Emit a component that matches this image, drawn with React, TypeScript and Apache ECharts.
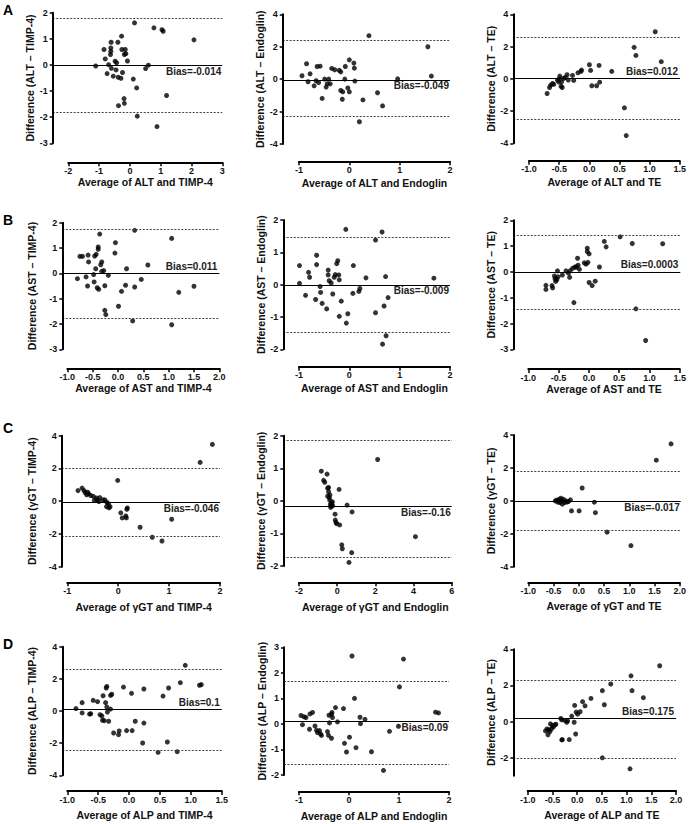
import React, { useEffect, useRef } from "react";
import * as echarts from "echarts";

const FONT = '"Liberation Sans", Arial, Helvetica, sans-serif';

// ---------- data: [average, difference] ----------
const altTimp4 = [[-1.11,-0.04],[-0.84,0.59],[-0.80,0.23],[-0.74,-0.33],[-0.69,0.01],[-0.62,0.52],[-0.61,0.87],[-0.62,0.65],[-0.63,0.40],[-0.60,-0.13],[-0.54,-0.43],[-0.48,0.14],[-0.45,-0.19],[-0.43,0.08],[-0.39,0.87],[-0.38,-0.47],[-0.37,-1.56],[-0.29,-0.51],[-0.27,1.10],[-0.26,0.59],[-0.24,-0.29],[-0.19,-1.29],[-0.18,-1.47],[-0.18,0.40],[-0.15,0.59],[-0.13,0.43],[-0.08,0.15],[0.11,-0.54],[0.15,1.61],[0.22,-0.88],[0.24,-1.96],[0.51,-0.14],[0.60,-0.01],[0.78,1.42],[0.88,-2.36],[1.04,1.35],[1.08,1.29],[1.19,-1.17],[2.08,0.96]];
const altEndoglin = [[-0.94,0.21],[-0.85,0.95],[-0.82,-0.16],[-0.78,0.33],[-0.70,-0.41],[-0.66,-0.10],[-0.64,0.78],[-0.61,-0.21],[-0.58,0.80],[-0.54,-1.19],[-0.49,0],[-0.46,-0.49],[-0.44,-0.29],[-0.41,0],[-0.38,-0.29],[-0.35,0.66],[-0.29,0.58],[-0.20,0.54],[-0.17,0.45],[-0.17,-0.70],[-0.14,-1.24],[-0.13,-0.78],[-0.09,0],[-0.08,0.78],[-0.03,-0.54],[0,1.19],[0,-0.78],[0.09,0.99],[0.10,0.68],[0.11,-0.12],[0.20,-2.63],[0.27,-1.28],[0.39,2.68],[0.56,-0.84],[0.66,-1.65],[0.96,0.02],[1.56,2.0],[1.63,0.19]];
const altTe = [[-0.70,-0.91],[-0.66,-0.54],[-0.64,-0.39],[-0.61,-0.29],[-0.59,-0.35],[-0.53,-0.08],[-0.51,-0.19],[-0.50,0],[-0.49,0.17],[-0.47,-0.46],[-0.46,-0.19],[-0.45,-0.54],[-0.43,0.02],[-0.40,0.08],[-0.37,0.25],[-0.35,-0.08],[-0.28,0.21],[-0.26,-0.10],[-0.19,0.37],[-0.14,0.46],[-0.13,0.54],[0.0,0.87],[0.02,0.52],[0.04,-0.43],[0.12,-0.43],[0.16,0.83],[0.17,-0.21],[0.37,0.46],[0.58,-1.80],[0.61,-3.52],[0.74,1.95],[0.77,1.45],[1.09,2.92],[1.19,1.06]];

const astTimp4 = [[-0.80,-0.21],[-0.75,0.67],[-0.70,0.67],[-0.59,0.72],[-0.63,-0.14],[-0.60,-0.50],[-0.58,0.45],[-0.48,-0.05],[-0.47,-0.34],[-0.46,0.68],[-0.43,0.75],[-0.44,0.18],[-0.41,-0.57],[-0.39,1.04],[-0.39,0.95],[-0.38,-0.63],[-0.36,1.55],[-0.34,0.34],[-0.32,0.45],[-0.32,0.08],[-0.28,0.11],[-0.26,-0.49],[-0.26,-1.46],[-0.24,-1.63],[-0.19,-0.08],[-0.06,0.80],[-0.05,1.21],[0.01,-1.30],[0.07,-0.71],[0.15,-0.47],[0.17,0.18],[0.33,-0.54],[0.33,1.70],[0.29,-1.88],[0.46,-0.24],[0.59,0.33],[1.06,1.38],[1.06,-2.03],[1.20,-0.75],[1.50,-0.51]];
const astEndoglin = [[-0.99,0.59],[-0.99,0.04],[-0.87,-0.33],[-0.81,0.38],[-0.79,0.23],[-0.67,-0.46],[-0.65,0.91],[-0.65,0.62],[-0.58,-0.06],[-0.57,-0.24],[-0.54,-0.58],[-0.45,-0.75],[-0.42,0.45],[-0.42,0.30],[-0.40,0.12],[-0.36,0.05],[-0.33,-0.29],[-0.30,0.23],[-0.28,0.31],[-0.25,0.65],[-0.23,0.74],[-0.21,0.30],[-0.20,-0.98],[-0.20,0.15],[-0.16,-0.51],[-0.07,1.71],[-0.06,-1.19],[-0.03,-0.90],[0.07,-0.27],[0.08,0.59],[0.19,-0.21],[0.21,-0.12],[0.33,0.21],[0.52,-0.87],[0.52,1.38],[0.65,1.63],[0.69,-0.66],[0.73,-1.58],[0.66,-1.84],[0.77,-0.40],[0.72,0.25],[1.68,0.20]];
const astTe = [[-0.71,-0.52],[-0.71,-0.68],[-0.61,-0.53],[-0.60,-0.62],[-0.57,-0.16],[-0.56,-0.27],[-0.55,-0.37],[-0.52,0.04],[-0.53,-0.30],[-0.51,-0.19],[-0.44,-0.12],[-0.38,0.04],[-0.34,-0.05],[-0.32,-0.21],[-0.31,0.05],[-0.27,0.14],[-0.25,-1.19],[-0.23,0.19],[-0.21,0.19],[-0.19,0.53],[-0.18,0.26],[-0.16,0.10],[-0.08,0.35],[-0.05,0.30],[-0.03,0.92],[-0.03,0.79],[-0.02,0.37],[0.00,0.70],[0,-0.41],[0.05,-0.53],[0.10,-0.36],[0.17,0.19],[0.25,1.18],[0.28,0.97],[0.51,1.36],[0.71,1.10],[0.77,-1.43],[0.93,-2.66],[1.21,1.09]];

const ggtTimp4 = [[-0.79,0.65],[-0.71,0.80],[-0.67,0.65],[-0.65,0.53],[-0.62,0.39],[-0.60,0.55],[-0.58,0.45],[-0.54,0.35],[-0.49,0.29],[-0.47,0.04],[-0.43,0.20],[-0.41,0.08],[-0.38,-0.02],[-0.36,0.22],[-0.30,0.08],[-0.26,0.08],[-0.23,-0.33],[-0.22,-0.08],[-0.19,-0.16],[-0.18,-0.41],[-0.16,-0.33],[-0.01,1.27],[0.05,-0.71],[0.08,-1.02],[0.15,-0.90],[0.17,-0.49],[0.18,-0.41],[0.16,-1.02],[0.43,-1.59],[0.67,-2.20],[0.86,-2.43],[1.05,-1.10],[1.61,2.37],[1.85,3.47]];
const ggtEndoglin = [[-0.83,0.91],[-0.71,0.63],[-0.65,0.57],[-0.53,0.82],[-0.50,0.39],[-0.45,0.41],[-0.45,0.28],[-0.50,0.14],[-0.41,0.10],[-0.39,0.02],[-0.36,-0.11],[-0.34,-0.20],[-0.29,-0.07],[-0.25,-0.03],[-0.24,-0.15],[-0.38,0.18],[-0.31,-0.16],[-0.11,-0.41],[-0.10,-0.59],[-0.06,-0.66],[-0.03,-0.70],[0.13,-0.74],[0.10,0.35],[0.24,-1.35],[0.27,-1.47],[0.52,-0.13],[0.78,-0.34],[0.76,-1.59],[0.62,-1.89],[2.12,1.27],[4.10,-1.10]];
const ggtTe = [[-0.47,0],[-0.44,0.04],[-0.42,-0.08],[-0.40,0.08],[-0.38,-0.10],[-0.36,0.16],[-0.34,0],[-0.33,-0.20],[-0.31,0.10],[-0.29,-0.10],[-0.26,0],[-0.24,-0.08],[-0.21,-0.04],[-0.17,0.06],[-0.15,-0.61],[0.00,-0.61],[0.06,0.78],[0.30,-0.08],[0.32,-0.72],[0.55,-1.90],[1.02,-2.72],[1.52,2.47],[1.81,3.46]];

const alpTimp4 = [[-0.86,0.15],[-0.76,0.52],[-0.76,-0.12],[-0.64,-0.19],[-0.62,-0.17],[-0.58,0.66],[-0.51,0.58],[-0.47,-0.23],[-0.44,-0.31],[-0.43,-0.58],[-0.42,0.95],[-0.40,-0.60],[-0.38,0.52],[-0.37,1.43],[-0.36,1.53],[-0.36,0.25],[-0.35,-0.06],[-0.33,-0.64],[-0.30,0.12],[-0.30,0.97],[-0.28,1.04],[-0.25,-1.37],[-0.17,-1.47],[-0.16,-1.24],[-0.09,1.49],[-0.04,-1.22],[0.04,1.10],[0.05,-1.22],[0.10,-0.64],[0.22,-1.99],[0.24,-0.75],[0.24,1.37],[0.47,-2.57],[0.55,0.93],[0.62,-1.93],[0.64,1.43],[0.78,-2.53],[0.83,1.76],[0.91,2.84],[1.14,1.60],[1.17,1.64]];
const alpEndoglin = [[-0.96,0.33],[-0.93,-0.03],[-0.90,0.28],[-0.86,0.25],[-0.79,-0.21],[-0.78,0.39],[-0.73,0.45],[-0.68,-0.08],[-0.65,-0.25],[-0.63,-0.34],[-0.59,-0.26],[-0.57,-0.39],[-0.55,-0.45],[-0.43,-0.30],[-0.41,-0.45],[-0.40,0.34],[-0.39,0.04],[-0.35,0.38],[-0.34,0.45],[-0.35,-0.56],[-0.33,0.25],[-0.27,0.64],[-0.23,0.08],[-0.11,0.60],[-0.09,-0.76],[-0.05,-1.10],[0.01,-0.52],[0.06,2.66],[0.11,1.00],[0.14,-0.93],[0.22,0.26],[0.23,0.01],[0.32,0.18],[0.45,-1.09],[0.69,-1.82],[0.81,-0.29],[0.99,-0.09],[1.01,1.45],[1.09,2.54],[1.73,0.46],[1.79,0.43]];
const alpTe = [[-0.64,-0.52],[-0.61,-0.41],[-0.59,-0.73],[-0.57,-0.45],[-0.55,-0.56],[-0.54,-0.13],[-0.52,-0.41],[-0.50,-0.22],[-0.48,-0.30],[-0.45,-0.19],[-0.43,-0.15],[-0.33,0.17],[-0.31,0.09],[-0.31,-1.02],[-0.30,-1.00],[-0.25,0.06],[-0.21,-0.04],[-0.19,0.04],[-0.16,-1.00],[-0.11,0.30],[-0.06,-0.04],[-0.05,0.89],[-0.03,-0.69],[-0.02,0.52],[0.01,0.41],[0.06,0.54],[0.11,1.10],[0.16,0.87],[0.28,1.28],[0.51,1.71],[0.55,0.93],[0.51,-2.01],[0.68,2.08],[1.09,2.53],[1.07,-2.62],[1.11,1.71],[1.34,1.32],[1.67,3.09]];

const panelData = [altTimp4, altEndoglin, altTe, astTimp4, astEndoglin, astTe, ggtTimp4, ggtEndoglin, ggtTe, alpTimp4, alpEndoglin, alpTe];
const biasValues = [-0.014, -0.049, 0.012, 0.011, -0.009, 0.0003, -0.046, -0.16, -0.017, 0.1, 0.09, 0.175];
const biasTexts = ["Bias=-0.014", "Bias=-0.049", "Bias=0.012", "Bias=0.011", "Bias=-0.009", "Bias=0.0003", "Bias=-0.046", "Bias=-0.16", "Bias=-0.017", "Bias=0.1", "Bias=0.09", "Bias=0.175"];
const upperLimits = [1.77, 2.41, 2.6, 1.76, 1.47, 1.43, 2.02, 1.85, 1.78, 2.59, 1.69, 2.29];
const lowerLimits = [-1.80, -2.30, -2.52, -1.78, -1.47, -1.45, -2.14, -1.73, -1.80, -2.42, -1.59, -2.01];
const markers = ["ALT", "AST", "γGT", "ALP"];
const methods = ["TIMP-4", "Endoglin", "TE"];
const panelLetters = ["A", "B", "C", "D"];
// x axis: [min, max, interval, decimals]
const xScales = [[-2,3,1,0],[-1,2,1,0],[-1,1.5,0.5,1],[-1,2,0.5,1],[-1,2,1,0],[-1,1.5,0.5,1],[-1,2,1,0],[-2,6,2,0],[-1,2,0.5,1],[-1,1.5,0.5,1],[-1,2,1,0],[-1,2,0.5,1]];
// y axis: [min, max, interval]
const yScales = [[-3,2,1],[-4,4,2],[-4,4,2],[-3,2,1],[-2,2,1],[-3,2,1],[-4,4,2],[-2,2,1],[-4,4,2],[-4,4,2],[-2,3,1],[-3,4,2]];
const yTickValuesD3 = [-2, 0, 2, 4];

// ---------- layout (pixels) ----------
// [yAxisX, xAxisStart, right, top, bottom, xAxisY, yNameGap, xNameGap]
const layouts = [
  [52.7, 68.3, 222.3, 12.7, 143.3, 162.3, 15.5, 14],
  [282.7, 299, 450, 14.3, 144, 161.3, 15, 16],
  [513.3, 529, 680, 14.3, 143.3, 160.7, 15.5, 15.5],
  [62.3, 67.3, 219.3, 222.7, 349.3, 368.3, 25, 14.5],
  [283.3, 299, 450, 220, 349.3, 366.7, 15.5, 16],
  [513.3, 528.3, 680.3, 220.3, 349.3, 369, 15.5, 14.5],
  [61.7, 67.3, 220, 435.7, 566.7, 582.3, 24.5, 19],
  [283.3, 299, 451.7, 435.7, 566, 582.3, 15, 19],
  [513.3, 528.3, 680.7, 435, 566.7, 582.3, 15.5, 18],
  [62.3, 67.3, 221.7, 646.7, 775.3, 791, 25, 18.5],
  [284, 299, 449, 647.3, 775, 791.3, 15, 19],
  [513.3, 527.7, 676, 649.3, 775.7, 791, 15.5, 18.5],
];
const biasAbove = [false, false, true, true, false, true, false, false, false, true, false, true];
const letterTops = [3, 213, 421, 637];
const X_GRID_H = 10;
const X_TICK_PX = 4;
const Y_TICK_PX = 3;

const seg = (a: number[], b: number[], w: number) => [
  { coord: a, lineStyle: { color: "#000", width: w, type: "solid" }, label: { show: false } },
  { coord: b },
];

function buildOption() {
  const grid: any[] = [];
  const xAxis: any[] = [];
  const yAxis: any[] = [];
  const series: any[] = [];
  const txt = { fontFamily: FONT, fontWeight: "bold", color: "#111" };

  panelData.forEach((pts, i) => {
    const [L, xs, R, top, bot, xAxisY, yGap, xGap] = layouts[i];
    const [xMin, xMax, xInt, xDec] = xScales[i];
    const [yMin, yMax, yInt] = yScales[i];
    const marker = markers[Math.floor(i / 3)];
    const method = methods[i % 3];
    const gi = grid.length;
    grid.push({ left: L, top, width: R - L, height: bot - top });
    grid.push({ left: xs, top: xAxisY - X_GRID_H, width: R - xs, height: X_GRID_H });
    const pxPerX = (R - xs) / (xMax - xMin);
    const extMin = xMin - (xs - L) / pxPerX;
    xAxis.push({ gridIndex: gi, type: "value", min: extMin, max: xMax, show: false });
    xAxis.push({
      gridIndex: gi + 1, type: "value", min: xMin, max: xMax, interval: xInt, position: "bottom",
      axisLine: { show: true, onZero: false, lineStyle: { color: "#000", width: 2 } },
      axisTick: { show: true, inside: false, length: X_TICK_PX, lineStyle: { color: "#000", width: 1.5 } },
      splitLine: { show: false },
      axisLabel: { ...txt, fontSize: 9, margin: 4, formatter: (v: number) => v.toFixed(xDec) },
      name: `Average of ${marker} and ${method}`, nameLocation: "middle", nameGap: xGap,
      nameTextStyle: { ...txt, fontSize: 10.5 },
    });
    const isD3 = i === 11;
    const yTicks: number[] = [];
    if (isD3) yTicks.push(...yTickValuesD3);
    else for (let t = yMin; t <= yMax + 1e-9; t += yInt) yTicks.push(t);
    const yLabel: any = { ...txt, fontSize: 9, margin: 5 };
    const yTick: any = { show: true, inside: false, length: Y_TICK_PX, lineStyle: { color: "#000", width: 1.5 } };
    if (isD3) { yLabel.customValues = yTickValuesD3; yTick.customValues = yTickValuesD3; }
    const ya: any = {
      gridIndex: gi, type: "value", min: yMin, max: yMax,
      axisLine: { show: true, onZero: false, lineStyle: { color: "#000", width: 2 } },
      axisTick: yTick,
      splitLine: { show: false },
      axisLabel: yLabel,
      name: `Difference (${marker} – ${method})`, nameLocation: "middle", nameGap: yGap,
      nameTextStyle: { ...txt, fontSize: 10.5 },
    };
    if (!isD3) ya.interval = yInt;
    yAxis.push(ya);
    yAxis.push({ gridIndex: gi + 1, type: "value", min: 0, max: 1, show: false });

    // y axis line and ticks, drawn through the panel's own scales
    const yAxisLines: any[] = [seg([extMin, yMin], [extMin, yMax], 2)];
    yTicks.forEach((t) => yAxisLines.push(seg([extMin, t], [extMin - Y_TICK_PX / pxPerX, t], 1.5)));

    series.push({
      type: "scatter", xAxisIndex: gi, yAxisIndex: gi, data: pts, symbolSize: 5, clip: false,
      itemStyle: { color: "#000" },
      markLine: {
        silent: true, symbol: ["none", "none"], label: { show: false },
        data: [
          {
            yAxis: biasValues[i], lineStyle: { color: "#000", width: 1.2, type: "solid" },
            label: {
              show: true, formatter: biasTexts[i], position: biasAbove[i] ? "insideEndTop" : "insideEndBottom",
              distance: biasAbove[i] ? 2 : 1, ...txt, fontSize: 10, color: "#222",
            },
          },
          { yAxis: upperLimits[i], lineStyle: { color: "#444", width: 1, type: [2, 1.5] }, label: { show: false } },
          { yAxis: lowerLimits[i], lineStyle: { color: "#444", width: 1, type: [2, 1.5] }, label: { show: false } },
          ...yAxisLines,
        ],
      },
    });

    // x axis line and ticks on the separate axis strip
    const xTicks: number[] = [];
    for (let v = xMin; v <= xMax + 1e-9; v += xInt) xTicks.push(v);
    const tickLen = X_TICK_PX / X_GRID_H;
    const xAxisLines: any[] = [seg([xMin, 0], [xMax, 0], 2)];
    xTicks.forEach((v) => xAxisLines.push(seg([v, 0], [v, -tickLen], 1.5)));
    series.push({
      type: "scatter", xAxisIndex: gi + 1, yAxisIndex: gi + 1, data: [[xMin, 0.5]], symbolSize: 0, clip: false,
      silent: true, itemStyle: { color: "transparent" },
      markLine: { silent: true, symbol: ["none", "none"], label: { show: false }, data: xAxisLines },
    });
  });

  const title = panelLetters.map((t, k) => ({
    text: t, left: 3, top: letterTops[k], padding: 0,
    textStyle: { fontFamily: FONT, fontWeight: "bold", fontSize: 14, color: "#000" },
  }));

  return { animation: false, title, grid, xAxis, yAxis, series };
}

export default function App() {
  const ref = useRef<HTMLDivElement>(null);
  useEffect(() => {
    if (!ref.current) return;
    const chart = echarts.init(ref.current, undefined, { renderer: "svg" });
    chart.setOption(buildOption() as any);
    return () => chart.dispose();
  }, []);
  return <div ref={ref} style={{ position: "fixed", left: 0, top: 0, width: 689, height: 824, background: "#fff" }} />;
}
